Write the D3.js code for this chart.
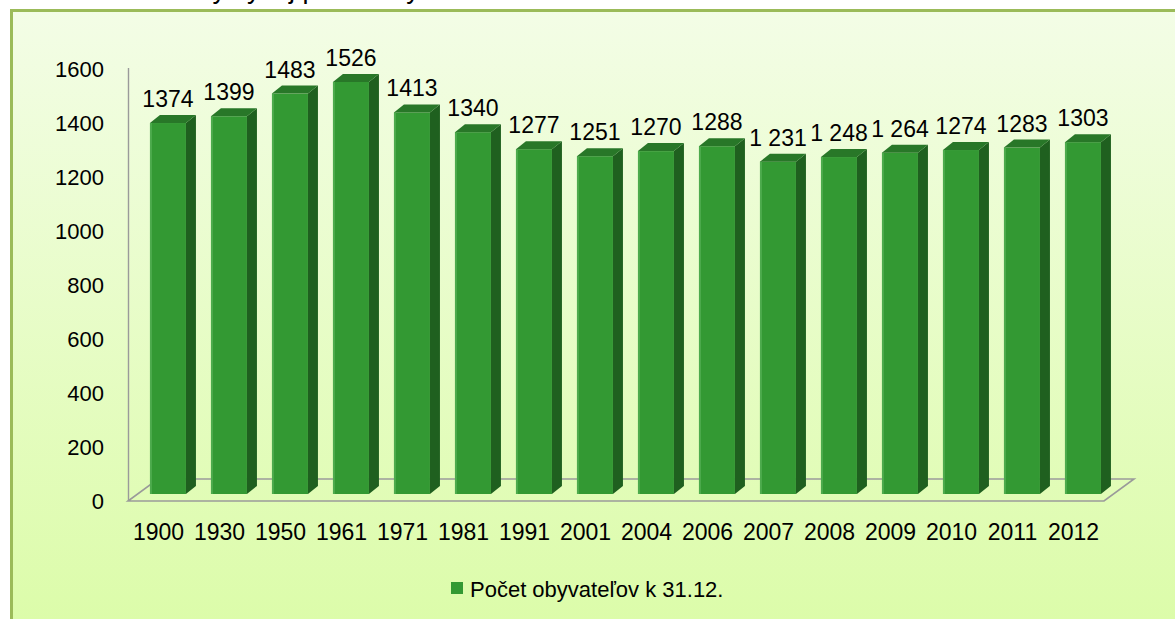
<!DOCTYPE html>
<html>
<head>
<meta charset="utf-8">
<script src="https://cdn.jsdelivr.net/npm/d3@7"></script>
<style>
  html, body { margin: 0; padding: 0; background: #fff; overflow: hidden; }
  text { font-family: "Liberation Sans", Arial, sans-serif; fill: #000; }
</style>
</head>
<body>
<script>
"use strict";

// data
var years = ["1900", "1930", "1950", "1961", "1971", "1981", "1991", "2001",
             "2004", "2006", "2007", "2008", "2009", "2010", "2011", "2012"];
var population = [1374, 1399, 1483, 1526, 1413, 1340, 1277, 1251,
                  1270, 1288, 1231, 1248, 1264, 1274, 1283, 1303];
var valueLabels = ["1374", "1399", "1483", "1526", "1413", "1340", "1277", "1251",
                   "1270", "1288", "1 231", "1 248", "1 264", "1274", "1283", "1303"];
var yTicks = [0, 200, 400, 600, 800, 1000, 1200, 1400, 1600];
var seriesName = "Počet obyvateľov k 31.12.";
var title = "Graf č. 1  Historický vývoj počtu obyvateľov v obci 1900 – 2012";

var width = 1175, height = 619;

var svg = d3.select("body").append("svg")
    .attr("width", width)
    .attr("height", height);

var defs = svg.append("defs");
var grad = defs.append("linearGradient")
    .attr("id", "bg")
    .attr("x1", 0).attr("y1", 0).attr("x2", 0).attr("y2", 1);
grad.append("stop").attr("offset", "0%").attr("stop-color", "#f3fde6");
grad.append("stop").attr("offset", "100%").attr("stop-color", "#dbfca7");

// title, cut off at the top of the picture as in the source
svg.append("text")
    .attr("x", -2)
    .attr("y", -2)
    .style("font-size", "27px")
    .text(title);

// chart area with its frame
svg.append("rect")
    .attr("x", 11.5)
    .attr("y", 10.5)
    .attr("width", width + 20)
    .attr("height", height + 20)
    .attr("fill", "url(#bg)")
    .attr("stroke", "#9bbb59")
    .attr("stroke-width", 3);

// scales
var xScale = d3.scaleBand()
    .domain(years)
    .range([128, 1104]);

var yScale = d3.scaleLinear()
    .domain([0, 1600])
    .range([501, 69]);

var depthX = 30, depthY = -22;   // floor depth
var barDX = 10, barDY = -8;      // bar depth
var barShift = -7;               // bars stand a bit behind the front edge

var y0 = yScale(0);
var xL = xScale.range()[0], xR = xScale.range()[1];

// floor
var floor = svg.append("g").attr("class", "floor");
floor.append("path")
    .attr("d", "M" + xL + "," + y0 +
               "L" + xR + "," + y0 +
               "L" + (xR + depthX) + "," + (y0 + depthY) +
               "L" + (xL + depthX) + "," + (y0 + depthY) + "Z")
    .attr("fill", "none")
    .attr("stroke", "#9a9a9a")
    .attr("stroke-width", 1.6);

// y axis line
svg.append("line")
    .attr("x1", xL + 0.5).attr("x2", xL + 0.5)
    .attr("y1", yScale(1600) - 1).attr("y2", y0)
    .attr("stroke", "#9a9a9a")
    .attr("stroke-width", 1.4);

// y tick labels
svg.append("g").attr("class", "y-ticks")
  .selectAll("text")
  .data(yTicks)
  .enter().append("text")
    .attr("x", 104)
    .attr("y", function(d) { return yScale(d); })
    .attr("dy", "0.35em")
    .attr("text-anchor", "end")
    .style("font-size", "22px")
    .text(function(d) { return d; });

// bars
var bw = xScale.bandwidth() * 0.59;
var bars = svg.append("g").attr("class", "bars")
  .selectAll("g")
  .data(years)
  .enter().append("g");

function barX(d) { return xScale(d) + xScale.bandwidth() * 0.36; }
function barTop(i) { return yScale(population[i]) + barShift; }
var barBottom = y0 + barShift;

bars.append("rect")
    .attr("x", function(d) { return barX(d); })
    .attr("y", function(d, i) { return barTop(i); })
    .attr("width", bw)
    .attr("height", function(d, i) { return barBottom - barTop(i); })
    .attr("fill", "#339933");

bars.append("rect")
    .attr("x", function(d) { return barX(d); })
    .attr("y", function(d, i) { return barTop(i); })
    .attr("width", 2)
    .attr("height", function(d, i) { return barBottom - barTop(i); })
    .attr("fill", "#4dab4d");

bars.append("path")
    .attr("d", function(d, i) {
      var x1 = barX(d) + bw, t = barTop(i);
      return "M" + x1 + "," + t +
             "L" + (x1 + barDX) + "," + (t + barDY) +
             "L" + (x1 + barDX) + "," + (barBottom + barDY) +
             "L" + x1 + "," + barBottom + "Z";
    })
    .attr("fill", "#1f601f");

bars.append("path")
    .attr("d", function(d, i) {
      var x0 = barX(d), t = barTop(i);
      return "M" + x0 + "," + t +
             "L" + (x0 + barDX) + "," + (t + barDY) +
             "L" + (x0 + bw + barDX) + "," + (t + barDY) +
             "L" + (x0 + bw) + "," + t + "Z";
    })
    .attr("fill", "#287728");

// value labels
bars.append("text")
    .attr("x", function(d) { return barX(d) + bw / 2; })
    .attr("y", function(d, i) { return barTop(i) - 16; })
    .attr("text-anchor", "middle")
    .style("font-size", "23px")
    .text(function(d, i) { return valueLabels[i]; });

// category labels
svg.append("g").attr("class", "x-ticks")
  .selectAll("text")
  .data(years)
  .enter().append("text")
    .attr("x", function(d) { return xScale(d) + xScale.bandwidth() / 2; })
    .attr("y", 539.5)
    .attr("text-anchor", "middle")
    .style("font-size", "23px")
    .text(function(d) { return d; });

// legend
var legend = svg.append("g").attr("class", "legend");
legend.append("rect")
    .attr("x", 451).attr("y", 582)
    .attr("width", 12).attr("height", 12)
    .attr("fill", "#339933");
legend.append("text")
    .attr("x", 470)
    .attr("y", 597)
    .style("font-size", "22px")
    .text(seriesName);
</script>
</body>
</html>
